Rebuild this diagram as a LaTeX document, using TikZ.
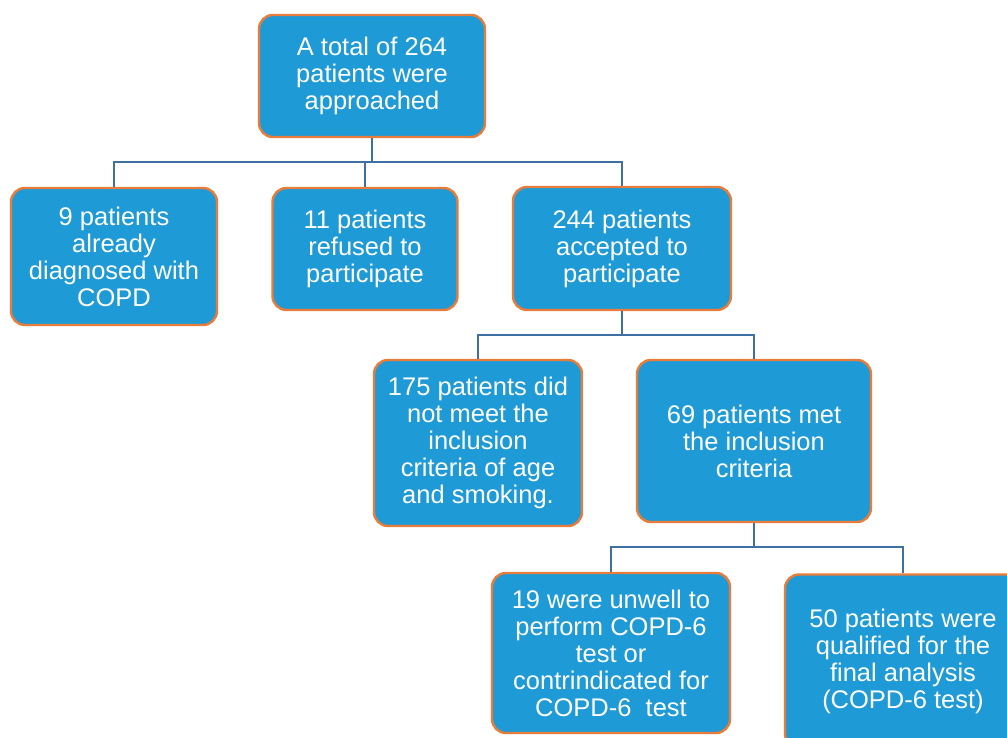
\documentclass[tikz,border=0pt]{standalone}
\usepackage{fontspec}
\setmainfont{Liberation Sans}
\definecolor{boxblue}{RGB}{30,154,214}
\definecolor{bord}{RGB}{232,124,58}
\definecolor{linkc}{RGB}{62,112,164}
\tikzset{
  box/.style={draw=bord, line width=2.4pt, fill=boxblue, rounded corners=14pt,
    text=white, align=center, inner sep=0pt,
    font=\fontsize{25.5}{27}\selectfont},
  link/.style={draw=linkc, line width=1.6pt}
}
\begin{document}
\begin{tikzpicture}[x=1pt,y=1pt]
\useasboundingbox (0,0) rectangle (1007,-738);
\clip (0,0) rectangle (1007,-738);
\fill[white] (0,0) rectangle (1007,-738);

\node[box, minimum width=226pt, minimum height=122pt] (b1) at (372,-76) {A total of 264\\patients were\\approached};
\node[box, minimum width=206pt, minimum height=137pt] (b2) at (114,-256.5) {9 patients\\already\\diagnosed with\\COPD};
\node[box, minimum width=185pt, minimum height=122pt] (b3) at (365,-249) {11 patients\\refused to\\participate};
\node[box, minimum width=218pt, minimum height=123pt] (b4) at (622,-248.5) {244 patients\\accepted to\\participate};
\node[box, minimum width=208pt, minimum height=166pt] (b5) at (478,-443) {175 patients did\\not meet the\\inclusion\\criteria of age\\and smoking.};
\node[box, minimum width=234pt, minimum height=162pt] (b6) at (754,-441) {69 patients met\\the inclusion\\criteria};
\node[box, minimum width=238pt, minimum height=160pt] (b7) at (611,-653) {19 were unwell to\\perform COPD-6\\test or\\contrindicated for\\COPD-6\ \ test};
\node[box, minimum width=236pt, minimum height=173pt] (b8) at (903,-661) {50 patients were\\qualified for the\\final analysis\\(COPD-6 test)};

\coordinate (j1) at (372,-162);
\coordinate (j2) at (622,-335);
\coordinate (j3) at (754,-547);

\draw[link] (b1.south) -- (j1);
\draw[link] (b2.north) |- (j1);
\draw[link] (b4.north) |- (j1);
\draw[link] (b3.north) -- (b3.north |- j1);

\draw[link] (b4.south) -- (j2);
\draw[link] (b5.north) |- (j2);
\draw[link] (b6.north) |- (j2);

\draw[link] (b6.south) -- (j3);
\draw[link] (b7.north) |- (j3);
\draw[link] (b8.north) |- (j3);
\end{tikzpicture}
\end{document}
